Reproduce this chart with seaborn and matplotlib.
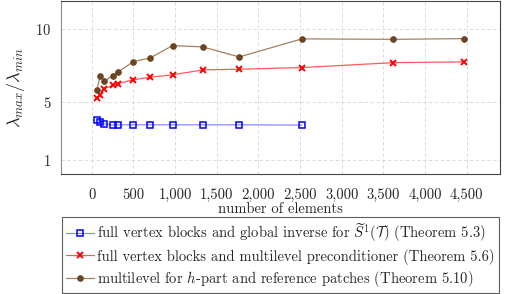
import matplotlib
matplotlib.use("Agg")
import matplotlib.pyplot as plt
import seaborn as sns
import pandas as pd
from matplotlib.ticker import FuncFormatter

# ---- data ----
elements_blue = [64, 100, 150, 250, 310, 500, 700, 970, 1330, 1770, 2520]
ratio_blue = [3.77, 3.63, 3.49, 3.40, 3.42, 3.42, 3.42, 3.42, 3.42, 3.42, 3.40]

elements_red = [64, 100, 150, 250, 310, 500, 700, 970, 1330, 1770, 2520, 3620, 4470]
ratio_red = [5.25, 5.48, 5.89, 6.14, 6.25, 6.51, 6.69, 6.85, 7.19, 7.24, 7.35, 7.69, 7.74]

elements_brown = [64, 100, 150, 250, 310, 500, 700, 970, 1330, 1770, 2520, 3620, 4470]
ratio_brown = [5.84, 6.76, 6.42, 6.78, 7.03, 7.76, 8.01, 8.86, 8.77, 8.08, 9.32, 9.29, 9.34]

labels = [
    r"full vertex blocks and global inverse for $\widetilde{S}^1(\mathcal{T})$ (Theorem 5.3)",
    "full vertex blocks and multilevel preconditioner (Theorem 5.6)",
    r"multilevel for $h$-part and reference patches (Theorem 5.10)",
]
xticks = [0, 500, 1000, 1500, 2000, 2500, 3000, 3500, 4000, 4500]
yticks = [1, 5, 10]

sns.set_theme(style="whitegrid")
plt.rcParams["font.family"] = ["cmr10", "DejaVu Serif"]
plt.rcParams["mathtext.fontset"] = "cm"
plt.rcParams["axes.formatter.use_mathtext"] = True

fig = plt.figure(figsize=(5.13, 2.94), dpi=100)
ax = fig.add_axes([0.119, 0.408, 0.856, 0.590])
ax.set_facecolor("white")

df_b = pd.DataFrame({"x": elements_blue, "y": ratio_blue})
df_r = pd.DataFrame({"x": elements_red, "y": ratio_red})
df_o = pd.DataFrame({"x": elements_brown, "y": ratio_brown})

sns.lineplot(data=df_b, x="x", y="y", ax=ax, color="#8a8aff", lw=0.9,
             marker="s", markersize=4.2, markerfacecolor="none",
             markeredgecolor="#0000ff", markeredgewidth=1.1, label=labels[0])
sns.lineplot(data=df_r, x="x", y="y", ax=ax, color="#ff5a5a", lw=0.9,
             marker="x", markersize=4.2, markeredgecolor="#ff0000",
             markeredgewidth=1.4, label=labels[1])
sns.lineplot(data=df_o, x="x", y="y", ax=ax, color="#a08262", lw=0.9,
             marker="o", markersize=4.0, markerfacecolor="#6b4423",
             markeredgecolor="#6b4423", label=labels[2])

ax.set_xlim(-368, 4900)
ax.set_ylim(0.04, 11.95)
ax.set_xticks(xticks)
ax.set_yticks(yticks)
ax.xaxis.set_major_formatter(FuncFormatter(lambda v, p: f"{int(v):,}"))
ax.tick_params(axis="both", labelsize=10.5, direction="in", length=3,
               color="#555555", pad=7)
ax.tick_params(axis="x", pad=10)
ax.grid(True, linestyle=(0, (4, 3)), color="#d6d6d6", lw=0.6)
for s in ax.spines.values():
    s.set_color("#444444")
    s.set_linewidth(0.8)
ax.spines["left"].set_color("#888888")

ax.set_xlabel("number of elements", fontsize=10.5, labelpad=0.5)
ax.set_ylabel(r"$\lambda_{max}/\lambda_{min}$", fontsize=13, labelpad=6)

handles, labs = ax.get_legend_handles_labels()
ax.get_legend().remove()
leg = fig.legend(handles, labs, loc="upper left", bbox_to_anchor=(0.12, 0.262),
                 fontsize=10.5, frameon=True, fancybox=False, edgecolor="#333333",
                 borderpad=0.3, labelspacing=0.3, handlelength=1.9,
                 handletextpad=0.25, borderaxespad=0)
leg.get_frame().set_linewidth(0.8)

fig.savefig("out.png", dpi=100)
